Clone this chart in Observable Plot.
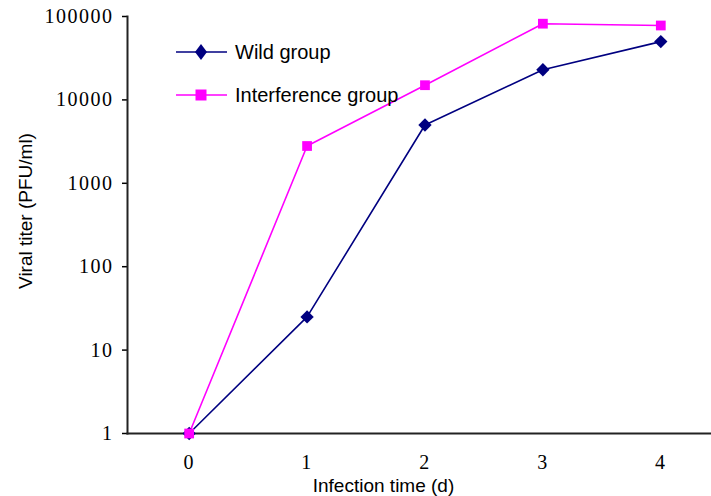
<!DOCTYPE html>
<html>
<head>
<meta charset="utf-8">
<script src="https://cdn.jsdelivr.net/npm/d3@7"></script>
<script src="https://cdn.jsdelivr.net/npm/@observablehq/plot@0.6"></script>
<style>
  html, body { margin: 0; padding: 0; background: #fff; }
  #wrap { position: relative; width: 711px; height: 496px; }
  .leg { position: absolute; font-family: "Liberation Sans", Arial, sans-serif; font-size: 20px; color: #000; display: flex; align-items: center; }
  .leg svg { margin-right: 8px; }
  g[aria-label="y-axis tick label"] text, g[aria-label="x-axis tick label"] text {
    font-family: "Liberation Serif", "Times New Roman", serif !important;
    font-size: 20px !important;
    letter-spacing: 1.5px;
  }
  .albl text { font-family: "Liberation Sans", Arial, sans-serif !important; font-size: 19px !important; }
</style>
</head>
<body>
<div id="wrap"></div>
<script>
const days = [0, 1, 2, 3, 4];
const wildValues = [1, 25, 5000, 23000, 50000];
const interferenceValues = [1, 2800, 15000, 82000, 78000];
const seriesNames = ["Wild group", "Interference group"];
const seriesColors = ["#000080", "#FF00FF"];
const yTicks = [1, 10, 100, 1000, 10000, 100000];
const xLabel = "Infection time (d)";
const yLabel = "Viral titer (PFU/ml)";

const wild = days.map((d, i) => ({day: d, value: wildValues[i]}));
const interf = days.map((d, i) => ({day: d, value: interferenceValues[i]}));

const plot = Plot.plot({
  width: 711,
  height: 496,
  marginLeft: 127,
  marginRight: 0,
  marginTop: 16,
  marginBottom: 63,
  x: {domain: [-0.523, 4.43]},
  y: {type: "log", domain: [1, 100000]},
  style: {background: "#fff", overflow: "visible", color: "#000"},
  marks: [
    Plot.axisY({
      ticks: yTicks, tickFormat: d => String(d), tickSize: 5, tickPadding: 9,
      label: null, stroke: "#000", strokeWidth: 1.5
    }),
    Plot.axisX({
      ticks: days, tickFormat: d => String(d), tickSize: 0, tickPadding: 21,
      label: null
    }),
    Plot.text([yLabel], {frameAnchor: "left", textAnchor: "middle", lineAnchor: "middle",
      rotate: -90, dx: -102, dy: -14, fill: "#000", className: "albl"}),
    Plot.text([xLabel], {frameAnchor: "bottom", textAnchor: "middle", lineAnchor: "middle",
      dx: -36, dy: 52, fill: "#000", className: "albl"}),
    Plot.frame({anchor: "left", stroke: "#222", strokeWidth: 2}),
    Plot.frame({anchor: "bottom", stroke: "#222", strokeWidth: 2}),
    Plot.line(wild, {x: "day", y: "value", stroke: seriesColors[0], strokeWidth: 1.6}),
    Plot.line(interf, {x: "day", y: "value", stroke: seriesColors[1], strokeWidth: 1.6}),
    Plot.dot(wild, {x: "day", y: "value", symbol: "diamond2", r: 6, fill: seriesColors[0], stroke: "none"}),
    Plot.dot(interf, {x: "day", y: "value", symbol: "square", r: 5.5, fill: seriesColors[1], stroke: "none"})
  ]
});
const wrap = document.getElementById("wrap");
wrap.appendChild(plot);

// legend overlay
const legendTops = [40, 83];
const legendSymbols = [
  '<path d="M25 4 L31 12 L25 20 L19 12 Z" fill="' + seriesColors[0] + '"/>',
  '<rect x="19.5" y="6.5" width="11" height="11" fill="' + seriesColors[1] + '"/>'
];
seriesNames.forEach((name, i) => {
  const div = document.createElement("div");
  div.className = "leg";
  div.style.left = "176px";
  div.style.top = legendTops[i] + "px";
  div.innerHTML = '<svg width="51" height="24"><line x1="0" x2="51" y1="12" y2="12" stroke="' + seriesColors[i] + '" stroke-width="1.6"/>' + legendSymbols[i] + '</svg><span>' + name + '</span>';
  wrap.appendChild(div);
});
</script>
</body>
</html>
